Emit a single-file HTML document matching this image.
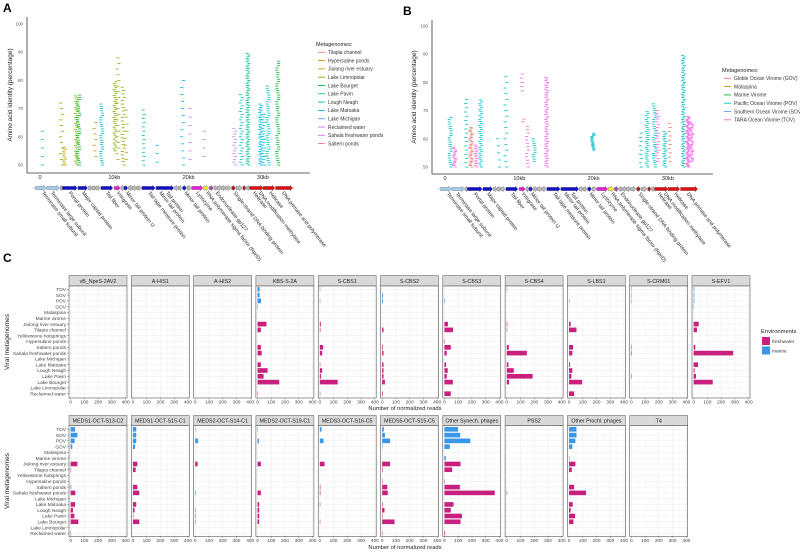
<!DOCTYPE html>
<html><head><meta charset="utf-8"><style>
html,body{margin:0;padding:0;background:#fff}
svg{display:block;font-family:"Liberation Sans",sans-serif}
</style></head><body>
<svg id="fig" width="800" height="552" viewBox="0 0 800 552"></svg>
<script>
// ---------- Panel C data ----------
const categories=["TOV","SOV","POV","GOV","Malaspina","Marine virome","Jiulong river estuary","Tilapia channel","Yellowstone hotsprings","Hypersaline ponds","Saltern ponds","Sahala freshwater ponds","Lake Michigan","Lake Matoaka","Lough Neagh","Lake Pavin","Lake Bourget","Lake Limnopolar","Reclaimed water"];
const envOf=["marine","marine","marine","marine","marine","marine","freshwater","freshwater","freshwater","freshwater","freshwater","freshwater","freshwater","freshwater","freshwater","freshwater","freshwater","freshwater","freshwater"];
const xTicks=[0,100,200,300,400];
const phagesTop=["vB_NpeS-2AV2","A-HIS1","A-HIS2","KBS-S-2A","S-CBS1","S-CBS2","S-CBS3","S-CBS4","S-LBS1","S-CRM01","S-EFV1"];
const phagesBottom=["MEDS1-OCT-S13-C2","MEDS1-OCT-S15-C1","MEDS2-OCT-S14-C1","MEDS2-OCT-S19-C1","MEDS3-OCT-S16-C5","MEDS5-OCT-S15-C5","Other Synech. phages","PSS2","Other Prochl. phages","T4"];
const readsTop=[
[0,0,0,0,0,0,0,0,0,0,0,0,0,0,0,0,0,0,0],
[0,0,0,0,0,0,0,0,0,0,0,0,0,0,0,0,0,0,0],
[0,0,0,0,0,0,0,0,0,0,0,0,0,0,0,0,0,0,0],
[15,15,25,2,0,0,65,24,0,0,24,30,0,24,73,44,158,0,2],
[2,0,3,0,0,0,7,4,0,0,24,17,0,2,17,8,130,0,2],
[0,6,6,0,0,0,0,10,0,0,5,10,0,10,10,10,20,0,5],
[0,0,4,0,0,0,25,63,0,2,46,17,0,12,24,17,61,0,46],
[3,0,0,0,0,0,4,2,0,0,15,146,0,12,51,188,17,0,0],
[0,0,3,0,0,0,12,54,0,0,29,24,0,7,24,17,95,0,37],
[2,2,2,0,0,0,0,0,0,0,2,4,0,0,0,3,0,0,0],
[5,5,5,2,0,0,37,24,0,0,12,288,0,32,7,17,139,0,0]];
const readsBottom=[
[32,49,29,12,0,0,49,3,0,0,4,34,0,32,17,27,56,0,2],
[24,24,24,15,0,0,32,20,0,0,32,46,0,24,12,3,46,0,0],
[3,0,20,0,0,0,17,0,0,0,0,3,0,0,1,1,2,0,0],
[2,0,10,0,0,0,24,0,0,0,0,24,0,12,12,12,12,0,0],
[12,0,27,0,0,0,34,0,0,0,4,4,0,2,0,0,3,0,0],
[12,20,58,3,0,0,58,4,0,2,37,41,0,4,17,2,90,0,3],
[98,115,188,39,0,10,117,56,0,2,112,366,0,66,46,127,117,0,5],
[0,0,0,0,0,0,0,0,0,0,0,3,0,0,0,0,0,0,0],
[54,54,46,24,0,3,46,20,0,0,37,124,0,27,12,44,32,0,0],
[0,0,0,0,0,0,0,0,0,0,0,0,0,0,0,0,0,0,0]];
// ---------- Panels A/B data ----------
const axisKb=[0,10,20,30];
const axisPct=[50,60,70,80,90,100];
const metaA=["Tilapia channel","Hypersaline ponds","Jiulong river estuary","Lake Limnopolar","Lake Bourget","Lake Pavin","Lough Neagh","Lake Matoaka","Lake Michigan","Reclaimed water","Sahala freshwater ponds","Saltern ponds"];
const metaAColors=["#f8766d","#de8c00","#b79f00","#7cae00","#00ba38","#00c08b","#00bfc4","#00b4f0","#619cff","#c77cff","#f564e3","#ff64b0"];
const metaB=["Globle Ocean Virome (GOV)","Malaspina","Marine Virome","Pacific Ocean Virome (POV)","Southern Ocean Virome (SOV)","TARA Ocean Virome (TOV)"];
const metaBColors=["#f8766d","#b79f00","#00ba38","#00bfc4","#619cff","#f564e3"];
// columns: kb position, low %, high %, colour index, step
const colKbA=[0.2,2.9,3.3,4.9,5.2,7.4,8.3,10.1,10.5,11.2,11.6,13.9,15.9,19.2,20.2,22,26.2,27.1,28,29.7,30.1,30.7,32];
const colLoA=[50,50,50,50,50,53,50,55,52,50,52,50,51,50,52,53,50,50,50,50,50,50,50];
const colHiA=[62,72,57,75,75,65,72,80,88,78,70,70,58,80,72,62,63,75,90,72,68,78,87];
const colCA=[6,3,2,3,4,2,6,3,2,3,2,6,7,7,9,9,9,6,5,7,6,6,4];
const colStepA=[3,2,0.7,0.7,0.8,2,0.8,0.7,2,1.2,2.5,1.5,3,2.5,3,3,1,1,0.6,0.6,1,0.8,0.8];
const colKbB=[0.7,1.3,2.8,3.5,4.2,4.8,7.2,8.2,10.3,10.6,11.1,12,13.7,19.9,26.3,27.2,28.2,28.6,29.6,30.3,32.1,32.7,33.2];
const colLoB=[50,50,50,50,50,50,50,50,77,66,50,52,50,56,50,50,50,52,50,52,50,50,52];
const colHiB=[68,57,75,64,58,74,62,82,83,67,65,60,82,62,63,70,73,70,63,66,90,68,66];
const colCB=[3,5,3,0,5,3,3,3,5,5,5,3,5,3,3,3,3,5,3,0,3,5,5];
const colStepB=[0.8,0.5,1.5,0.5,0.6,0.7,2.5,2,1.5,1,1.2,0.8,0.6,0.4,1.5,0.7,0.8,1,0.6,1.5,0.6,0.35,0.5];
// genes: start kb, end kb, colour
const geneStart=[-0.6,0.9,2.7,3.0,5.1,6.5,7.0,7.5,8.2,10.0,10.9,11.3,11.9,12.4,13.0,13.7,15.6,18.1,18.6,19.2,19.8,20.4,22.0,22.8,23.4,23.9,24.4,25.0,25.8,26.4,27.3,27.8,28.2,30.0,31.7];
const geneEnd=[0.8,2.6,3.0,5.0,6.4,7.0,7.5,8.1,9.8,10.8,11.3,11.8,12.4,13.0,13.6,15.5,18.0,18.6,19.1,19.7,20.3,21.9,22.7,23.3,23.9,24.4,25.0,25.7,26.3,27.2,27.7,28.2,30.0,31.6,34.0];
const geneCol=["#a6cee8","#a6cee8","#bbb","#1010c8","#1010c8","#bbb","#bbb","#bbb","#1010c8","#e020d0","#bbb","#1010c8","#bbb","#bbb","#bbb","#1010c8","#1010c8","#bbb","#bbb","#1010c8","#bbb","#e020d0","#f0f020","#b040c0","#bbb","#bbb","#bbb","#bbb","#b01818","#bbb","#b01818","#bbb","#e01010","#e01010","#e01010"];
const geneLabels=["Terminase small subunit","Terminase large subunit","Portal protein","Major capsid protein","Tail fiber","Integrase","Minor tail protein U","Tail tape measure protein","Minor tail protein","Tail protein","Minor tail protein","Lysozyme","RNA polymerase sigma factor (RpoD)","Endonuclease gp127","Single-strand DNA binding protein","Helicase","DNA modification methylase","Helicase","DNA primase and polymerase"];
const geneLabelKb=[0.2,1.4,3.8,5.6,8.8,10.3,11.5,14.5,16.0,16.9,19.4,21.0,22.3,23.6,26.0,28.6,29.4,30.8,32.5];

const NS="http://www.w3.org/2000/svg";
const svg=document.getElementById('fig');
function el(tag,attrs,parent,txt){const e=document.createElementNS(NS,tag);for(const k in attrs)e.setAttribute(k,attrs[k]);if(txt!==undefined)e.textContent=txt;(parent||svg).appendChild(e);return e;}

// panel letters
[["A",3,12],["B",403,15],["C",3,262]].forEach(p=>{const t=el('text',{x:p[1],y:p[2],'font-size':12,'font-weight':'bold',fill:'#000'},svg,p[0]);

});

// ---------- scatter panels ----------
function scatterPanel(cfg){
  const g=el('g',{});
  
  
  const xs=kb=>cfg.x0+kb*cfg.kbPx;
  const ys=v=>cfg.y50-(v-50)*cfg.pctPx;
  el('line',{x1:cfg.ax,y1:cfg.top,x2:cfg.ax,y2:cfg.bottom,stroke:'#333','stroke-width':0.8},g);
  el('line',{x1:cfg.ax,y1:cfg.bottom,x2:cfg.right,y2:cfg.bottom,stroke:'#333','stroke-width':0.8},g);
  axisPct.forEach(v=>{const t=el('text',{x:cfg.ax-4,y:ys(v)+1.5,'font-size':4.5,'text-anchor':'end',fill:'#555'},g,String(v));
    });
  axisKb.forEach(k=>{const t=el('text',{x:xs(k),y:cfg.bottom+6,'font-size':5.5,'text-anchor':'middle',fill:'#222'},g,k===0?'0':k+'kb');
    });
  const yt=el('text',{x:0,y:0,'font-size':6.5,'text-anchor':'middle',fill:'#222',transform:`translate(${cfg.ytx},${(cfg.top+cfg.bottom)/2}) rotate(-90)`},g,'Amino acid identity (percentage)');
  
  for(let i=0;i<cfg.kb.length;i++){
    const col=cfg.colors[cfg.c[i]];
    for(let v=cfg.lo[i];v<=cfg.hi[i];v+=cfg.step[i]){
      const off=((Math.round(v*7))%3-1)*0.9;
      const d=el('rect',{x:xs(cfg.kb[i])+off-1.6,y:ys(v)-0.4,width:3.2,height:0.8,fill:col},g);
      
      
    }
  }
  const gy=cfg.geneY;
  el('line',{x1:xs(-1),y1:gy,x2:xs(34.3),y2:gy,stroke:'#888','stroke-width':0.6},g);
  for(let i=0;i<geneStart.length;i++){
    const a=xs(geneStart[i]),b=xs(geneEnd[i]),h=2.8,tip=Math.min(2.5,(b-a)*0.5);
    const p=el('polygon',{points:`${a},${gy-h*0.6} ${b-tip},${gy-h*0.6} ${b-tip},${gy-h} ${b},${gy} ${b-tip},${gy+h} ${b-tip},${gy+h*0.6} ${a},${gy+h*0.6}`,fill:geneCol[i],stroke:'#555','stroke-width':0.3},g);
    
    
  }
  for(let i=0;i<geneLabels.length;i++){
    const x=xs(geneLabelKb[i]);
    const t=el('text',{x:0,y:0,'font-size':5.2,fill:'#222',transform:`translate(${x},${gy+5}) rotate(52)`},g,geneLabels[i]);
    
    
  }
  const lt=el('text',{x:cfg.lx,y:cfg.ly,'font-size':5.5,fill:'#222'},g,'Metagenomes:');
  
  cfg.meta.forEach((m,i)=>{
    const y=cfg.ly+8.3*(i+1)-2;
    el('line',{x1:cfg.lx+2,y1:y,x2:cfg.lx+9,y2:y,stroke:cfg.colors[i],'stroke-width':0.9},g);
    const t=el('text',{x:cfg.lx+12,y:y+1.8,'font-size':5,fill:'#333'},g,m);
    
    
  });
}
scatterPanel({name:'panel-a-scatter',x0:40,kbPx:7.43,y50:165,pctPx:2.82,ax:27,right:310,top:17,bottom:173,ytx:12,
  kb:colKbA,lo:colLoA,hi:colHiA,c:colCA,step:colStepA,colors:metaAColors,meta:metaA,lx:316,ly:46,geneY:188});
scatterPanel({name:'panel-b-scatter',x0:445,kbPx:7.43,y50:167,pctPx:2.82,ax:432,right:713,top:20,bottom:174,ytx:416,
  kb:colKbB,lo:colLoB,hi:colHiB,c:colCB,step:colStepB,colors:metaBColors,meta:metaB,lx:722,ly:72,geneY:189});

// ---------- Panel C ----------
const fx0=69, fPitch=62.3, fW=58;
const xScale=(f,v)=>fx0+f*fPitch+(v+12)/422*fW;
function facetRow(phages,reads,stripTop,panelTop,panelBottom,firstY,step,tickY,titleY){
  phages.forEach((name,f)=>{
    const g=el('g',{});
    
    
    const x=fx0+f*fPitch;
    el('rect',{x:x,y:stripTop,width:fW,height:panelTop-stripTop,fill:'#d9d9d9',stroke:'#555','stroke-width':0.5},g);
    const st=el('text',{x:x+fW/2,y:stripTop+(panelTop-stripTop)/2+2,'font-size':5.3,'text-anchor':'middle',fill:'#222'},g,name);
    
    el('rect',{x:x,y:panelTop,width:fW,height:panelBottom-panelTop,fill:'#fff'},g);
    for(let v=0;v<=400;v+=50){el('line',{x1:xScale(f,v),y1:panelTop,x2:xScale(f,v),y2:panelBottom,stroke:'#ebebeb','stroke-width':v%100?0.3:0.5},g);}
    categories.forEach((c,i)=>{const y=firstY+i*step;el('line',{x1:x,y1:y,x2:x+fW,y2:y,stroke:'#ebebeb','stroke-width':0.5},g);});
    reads[f].forEach((v,i)=>{
      if(v<=0)return;
      const y=firstY+i*step;
      const r=el('rect',{x:xScale(f,0),y:y-step*0.4,width:Math.max(0.4,xScale(f,v)-xScale(f,0)),height:step*0.8,fill:envOf[i]==='marine'?'#3a96e8':'#c8207e'},g);
      
      
    });
    el('rect',{x:x,y:panelTop,width:fW,height:panelBottom-panelTop,fill:'none',stroke:'#555','stroke-width':0.6},g);
    xTicks.forEach(v=>{
      el('line',{x1:xScale(f,v),y1:panelBottom,x2:xScale(f,v),y2:panelBottom+1.5,stroke:'#555','stroke-width':0.4},g);
      const t=el('text',{x:xScale(f,v),y:tickY,'font-size':4.8,'text-anchor':'middle',fill:'#444'},g,String(v));
      
    });
  });
  categories.forEach((c,i)=>{
    const y=firstY+i*step;
    const t=el('text',{x:66,y:y+1.7,'font-size':4.8,'text-anchor':'end',fill:'#444'},svg,c);
    
    el('line',{x1:67,y1:y,x2:69,y2:y,stroke:'#555','stroke-width':0.4});
  });
  const xt=el('text',{x:405,y:titleY,'font-size':5.8,'text-anchor':'middle',fill:'#222'},svg,'Number of normalized reads');
  
  const yt=el('text',{x:0,y:0,'font-size':6.5,'text-anchor':'middle',fill:'#222',transform:`translate(9,${(panelTop+panelBottom)/2}) rotate(-90)`},svg,'Viral metagenomes');
  
}
facetRow(phagesTop,readsTop,275.5,286,398,289.3,5.8,403.5,410);
facetRow(phagesBottom,readsBottom,415.5,425.5,536.5,429.3,5.78,542,549);

const lg=el('g',{});


el('text',{x:761,y:333,'font-size':5.8,fill:'#222'},lg,'Environments');
[['freshwater','#c8207e'],['marine','#3a96e8']].forEach((e,i)=>{
  const r=el('rect',{x:762,y:337+i*9.5,width:8,height:8,fill:e[1]},lg);
  
  const t=el('text',{x:772,y:343+i*9.5,'font-size':4.8,fill:'#333'},lg,e[0]);
  
});
</script>
</body></html>
